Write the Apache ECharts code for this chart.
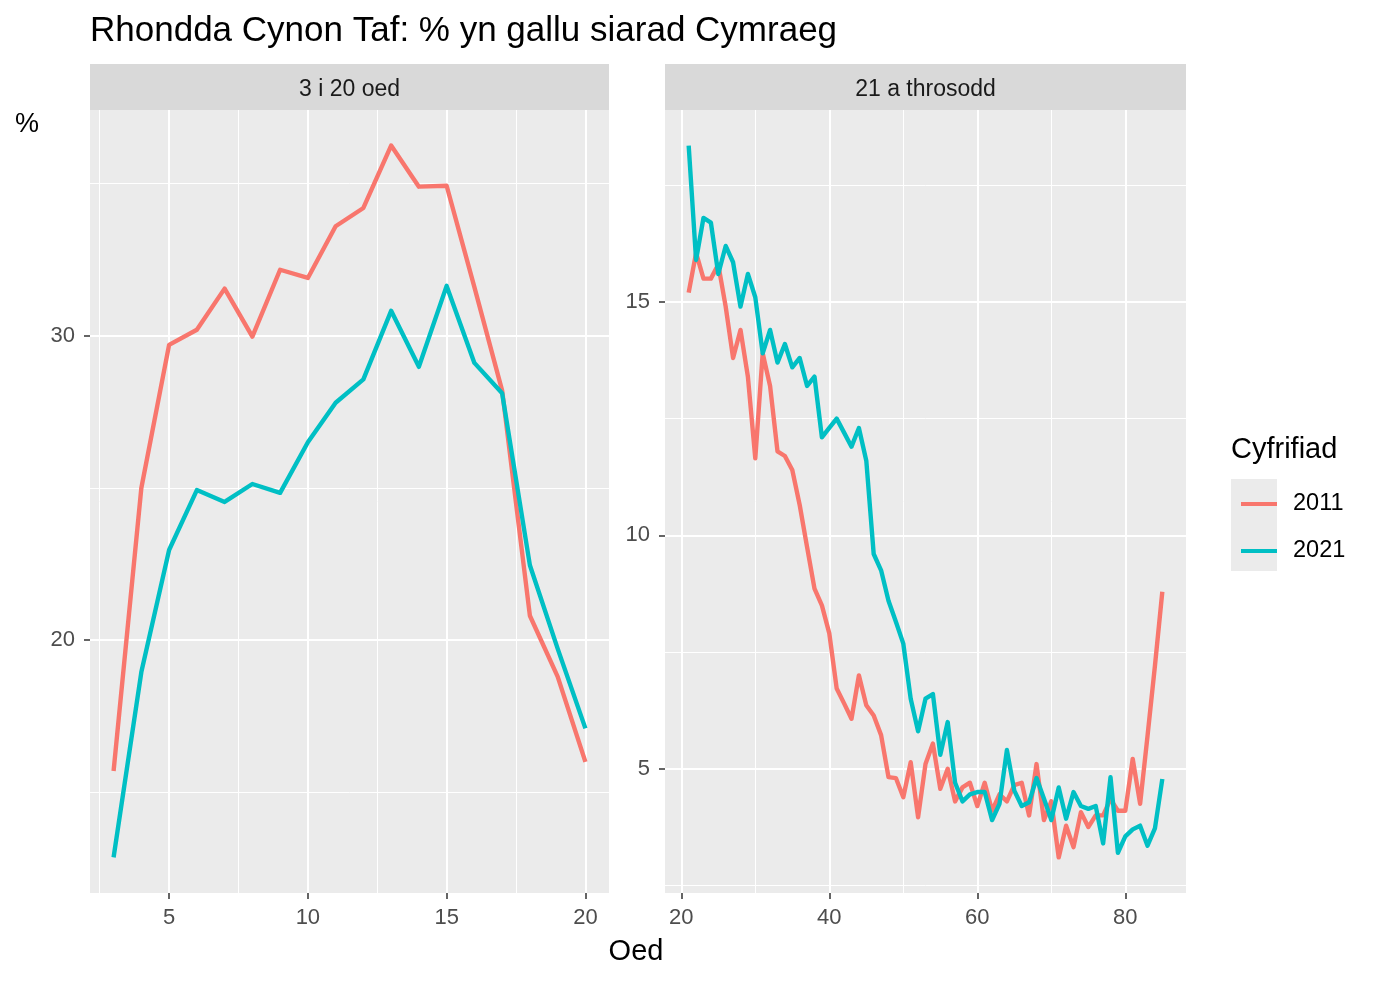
<!DOCTYPE html>
<html><head><meta charset="utf-8">
<script src="https://cdn.jsdelivr.net/npm/echarts@6/dist/echarts.min.js"></script>
<style>html,body{margin:0;padding:0;background:#fff}#c{width:1376px;height:982px}</style>
</head><body><div id="c"></div>
<script>
// ---- data ----
const titleText = 'Rhondda Cynon Taf: % yn gallu siarad Cymraeg';
const panelLabels = ['3 i 20 oed', '21 a throsodd'];
const yearLabels = ['2011', '2021'];
const legendTitle = 'Cyfrifiad';
const xTitle = 'Oed';
const yTitle = '%';

const agesYoung = [3,4,5,6,7,8,9,10,11,12,13,14,15,16,17,18,19,20];
const young2011 = [15.7,25.0,29.7,30.2,31.55,29.97,32.17,31.9,33.6,34.2,36.25,34.9,34.93,31.6,28.2,20.8,18.8,16.0];
const young2021 = [12.86,18.95,22.96,24.93,24.54,25.13,24.84,26.5,27.8,28.57,30.82,28.98,31.64,29.11,28.11,22.46,19.72,17.1];

const agesAdult = [21,22,23,24,25,26,27,28,29,30,31,32,33,34,35,36,37,38,39,40,
  41,42,43,44,45,46,47,48,49,50,51,52,53,54,55,56,57,58,59,60,
  61,62,63,64,65,66,67,68,69,70,71,72,73,74,75,76,77,78,79,80,81,82,83,84,85];
const adult2011 = [15.2,16.05,15.5,15.5,15.8,14.9,13.8,14.4,13.4,11.65,13.9,13.2,11.8,11.7,11.4,10.65,9.75,8.86,8.5,7.9,
  6.72,6.4,6.07,7.0,6.36,6.14,5.72,4.82,4.8,4.39,5.14,3.96,5.1,5.54,4.57,5.0,4.3,4.6,4.7,4.2,
  4.7,4.1,4.45,4.3,4.65,4.7,4.0,5.1,3.9,4.3,3.1,3.78,3.32,4.07,3.75,4.0,4.0,4.35,4.1,4.1,5.21,4.25,5.7,7.2,8.79];
const adult2021 = [18.35,15.9,16.8,16.7,15.6,16.2,15.85,14.9,15.6,15.1,13.9,14.4,13.7,14.1,13.6,13.8,13.2,13.4,12.1,12.3,
  12.5,12.2,11.9,12.3,11.6,9.6,9.25,8.6,8.15,7.68,6.5,5.8,6.5,6.6,5.3,6.0,4.7,4.3,4.45,4.5,
  4.5,3.9,4.25,5.4,4.53,4.2,4.28,4.8,4.36,3.9,4.6,3.93,4.5,4.2,4.14,4.2,3.4,4.82,3.2,3.55,3.7,3.78,3.35,3.72,4.78];

const ticksX1 = [5,10,15,20];
const ticksY1 = [20,30];
const ticksX2 = [20,40,60,80];
const ticksY2 = [5,10,15];
const minorX1 = [2.5,7.5,12.5,17.5];
const minorY1 = [15,25,35];
const minorX2 = [30,50,70];
const minorY2 = [2.5,7.5,12.5,17.5];

// ---- chart ----
const FONT = '"Liberation Sans", Arial, sans-serif';
const C2011 = '#F8766D', C2021 = '#00BFC4';
const pairs = (xs, ys) => xs.map((x, i) => [x, ys[i]]);
const range = (lo, hi, e) => { const d = (hi - lo) * e; return [lo - d, hi + d]; };
const xr1 = range(Math.min(...agesYoung), Math.max(...agesYoung), 0.05);
const yr1 = range(Math.min(...young2011, ...young2021), Math.max(...young2011, ...young2021), 0.05);
const xr2 = range(Math.min(...agesAdult), Math.max(...agesAdult), 0.05);
const yr2 = range(Math.min(...adult2011, ...adult2021), Math.max(...adult2011, ...adult2021), 0.05);

function axis(kind, idx, r, ticks) {
  return {
    type: 'value', gridIndex: idx, min: r[0], max: r[1], scale: true,
    splitNumber: 4,
    axisLine: { show: false },
    axisTick: { show: true, length: 6, inside: false, lineStyle: { color: '#333333', width: 1.5 }, customValues: ticks },
    axisLabel: { show: true, color: '#4D4D4D', fontSize: 22, fontFamily: FONT, margin: kind === 'x' ? 14 : 15, customValues: ticks },
    splitLine: { show: true, lineStyle: { color: '#FFFFFF', width: 2 } },
    minorSplitLine: { show: false }
  };
}

function minorSeries(idx, mx, my) {
  return {
    type: 'line', xAxisIndex: idx, yAxisIndex: idx, data: [], z: 1, silent: true,
    markLine: {
      silent: true, symbol: 'none', animation: false, z: 1,
      label: { show: false },
      lineStyle: { color: '#FFFFFF', width: 1, type: 'solid' },
      emphasis: { disabled: true },
      data: mx.map(v => ({ xAxis: v })).concat(my.map(v => ({ yAxis: v })))
    }
  };
}

function dataSeries(name, idx, xs, ys, color) {
  return {
    name: name, type: 'line', xAxisIndex: idx, yAxisIndex: idx,
    data: pairs(xs, ys), symbol: 'none', smooth: false, z: 3,
    lineStyle: { color: color, width: 4.4, join: 'round' },
    itemStyle: { color: color },
    emphasis: { disabled: true }
  };
}

const g1 = { left: 90, top: 110, width: 519, height: 783 };
const g2 = { left: 665, top: 110, width: 521, height: 783 };

const chart = echarts.init(document.getElementById('c'), null, { renderer: 'canvas' });
chart.setOption({
  animation: false,
  backgroundColor: '#FFFFFF',
  textStyle: { fontFamily: FONT },
  grid: [
    Object.assign({ backgroundColor: '#EBEBEB', show: true, borderWidth: 0 }, g1),
    Object.assign({ backgroundColor: '#EBEBEB', show: true, borderWidth: 0 }, g2)
  ],
  xAxis: [axis('x', 0, xr1, ticksX1), axis('x', 1, xr2, ticksX2)],
  yAxis: [axis('y', 0, yr1, ticksY1), axis('y', 1, yr2, ticksY2)],
  legend: [
    { data: [yearLabels[0]], left: 1236, top: 487, icon: 'rect', itemWidth: 36, itemHeight: 4,
      textStyle: { fontSize: 23.5, color: '#000', fontFamily: FONT, padding: [0, 0, 0, 11] }, selectedMode: false },
    { data: [yearLabels[1]], left: 1236, top: 534, icon: 'rect', itemWidth: 36, itemHeight: 4,
      textStyle: { fontSize: 23.5, color: '#000', fontFamily: FONT, padding: [0, 0, 0, 11] }, selectedMode: false }
  ],
  series: [
    minorSeries(0, minorX1, minorY1),
    minorSeries(1, minorX2, minorY2),
    dataSeries(yearLabels[0], 0, agesYoung, young2011, C2011),
    dataSeries(yearLabels[1], 0, agesYoung, young2021, C2021),
    dataSeries(yearLabels[0], 1, agesAdult, adult2011, C2011),
    dataSeries(yearLabels[1], 1, agesAdult, adult2021, C2021)
  ],
  graphic: [
    { type: 'text', x: 90, y: 31, style: { text: titleText, fontSize: 35, fill: '#000', fontFamily: FONT, verticalAlign: 'middle' } },
    { type: 'rect', shape: { x: 90, y: 64, width: 519, height: 46 }, style: { fill: '#D9D9D9' } },
    { type: 'rect', shape: { x: 665, y: 64, width: 521, height: 46 }, style: { fill: '#D9D9D9' } },
    { type: 'text', x: 349.5, y: 89.5, style: { text: panelLabels[0], fontSize: 23, fill: '#1A1A1A', fontFamily: FONT, align: 'center', verticalAlign: 'middle' } },
    { type: 'text', x: 925.5, y: 89.5, style: { text: panelLabels[1], fontSize: 23, fill: '#1A1A1A', fontFamily: FONT, align: 'center', verticalAlign: 'middle' } },
    { type: 'text', x: 27, y: 125, style: { text: yTitle, fontSize: 27, fill: '#000', fontFamily: FONT, align: 'center', verticalAlign: 'middle' } },
    { type: 'text', x: 636, y: 952, style: { text: xTitle, fontSize: 29, fill: '#000', fontFamily: FONT, align: 'center', verticalAlign: 'middle' } },
    { type: 'text', x: 1231, y: 450, style: { text: legendTitle, fontSize: 29, fill: '#000', fontFamily: FONT, verticalAlign: 'middle' } },
    { type: 'rect', z: -1, shape: { x: 1231, y: 479, width: 46, height: 46 }, style: { fill: '#EBEBEB' } },
    { type: 'rect', z: -1, shape: { x: 1231, y: 525, width: 46, height: 46 }, style: { fill: '#EBEBEB' } }
  ]
});
</script></body></html>
